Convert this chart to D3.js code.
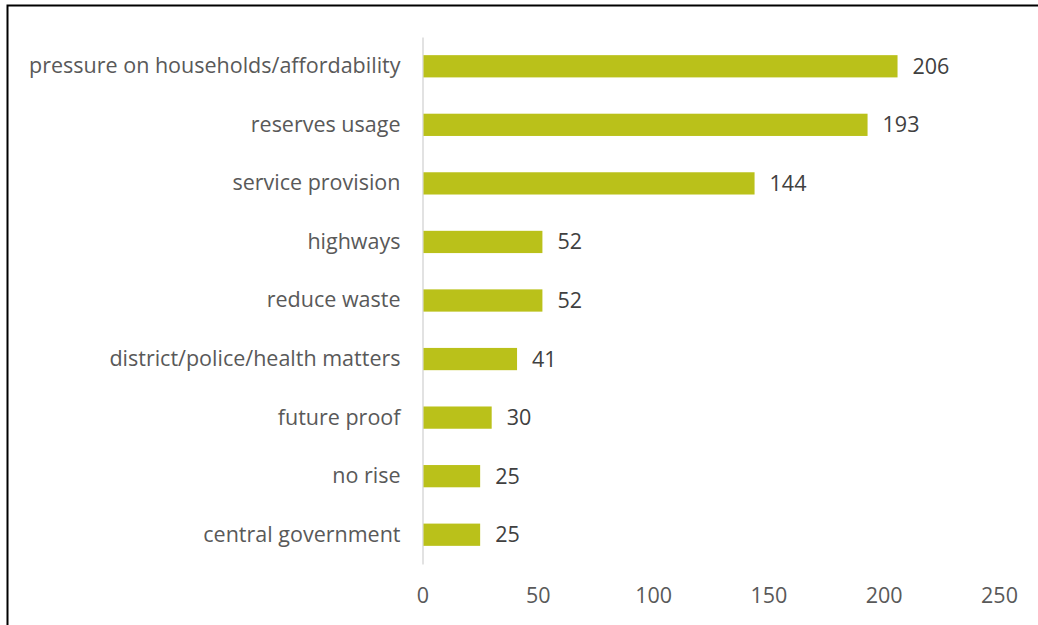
<!DOCTYPE html>
<html>
<head>
<meta charset="utf-8">
<script src="https://cdn.jsdelivr.net/npm/d3@7"></script>
<style>
  body { margin: 0; background: #fff; }
  text { font-family: "Open Sans", sans-serif; }
</style>
</head>
<body>
<script>
// donnees du graphique
var categories = ["pressure on households/affordability", "reserves usage", "service provision",
  "highways", "reduce waste", "district/police/health matters", "future proof", "no rise", "central government"];
var counts = [206, 193, 144, 52, 52, 41, 30, 25, 25];
var ticks = [0, 50, 100, 150, 200, 250];

var width = 1038, height = 625;
var fontSize = "21.5px";

var svg = d3.select("body")
  .append("svg")
  .attr("width", width)
  .attr("height", height);

// cadre (haut et gauche seulement)
svg.append("path")
  .attr("d", "M7.5,625 V5.5 H1038")
  .attr("fill", "none")
  .attr("stroke", "#000")
  .attr("stroke-width", 2);

var x = d3.scaleLinear().domain([0, 250]).range([422.5, 999]);
var y = d3.scaleBand().domain(categories).range([37, 564]).paddingInner(0.62).paddingOuter(0.31);

// axe x : labels seulement
var xAxis = svg.append("g")
  .attr("transform", "translate(0,564)")
  .call(d3.axisBottom(x).tickValues(ticks).tickSize(0).tickPadding(24));
xAxis.select(".domain").remove();
xAxis.selectAll("text")
  .attr("fill", "#595959")
  .style("font-size", fontSize)
  .style("font-family", "'Open Sans', sans-serif");

// axe y
var yAxis = svg.append("g")
  .attr("transform", "translate(" + x(0) + ",0)")
  .call(d3.axisLeft(y).tickSize(0).tickPadding(22));
yAxis.select(".domain").attr("stroke", "#d9d9d9").attr("stroke-width", 1.5);
yAxis.selectAll("text")
  .attr("fill", "#595959")
  .style("font-size", fontSize)
  .style("font-family", "'Open Sans', sans-serif");

// barres
svg.selectAll("rect.bar")
  .data(counts)
  .enter()
  .append("rect")
  .attr("class", "bar")
  .attr("x", x(0) + 1)
  .attr("y", function(d, i) { return y(categories[i]); })
  .attr("width", function(d) { return x(d) - x(0) - 1; })
  .attr("height", y.bandwidth())
  .attr("fill", "#bac11a");

// etiquettes de valeurs
svg.selectAll("text.val")
  .data(counts)
  .enter()
  .append("text")
  .attr("class", "val")
  .attr("x", function(d) { return x(d) + 15; })
  .attr("y", function(d, i) { return y(categories[i]) + y.bandwidth() / 2; })
  .attr("dy", "0.35em")
  .attr("fill", "#404040")
  .style("font-size", fontSize)
  .text(function(d) { return d; });
</script>
</body>
</html>
